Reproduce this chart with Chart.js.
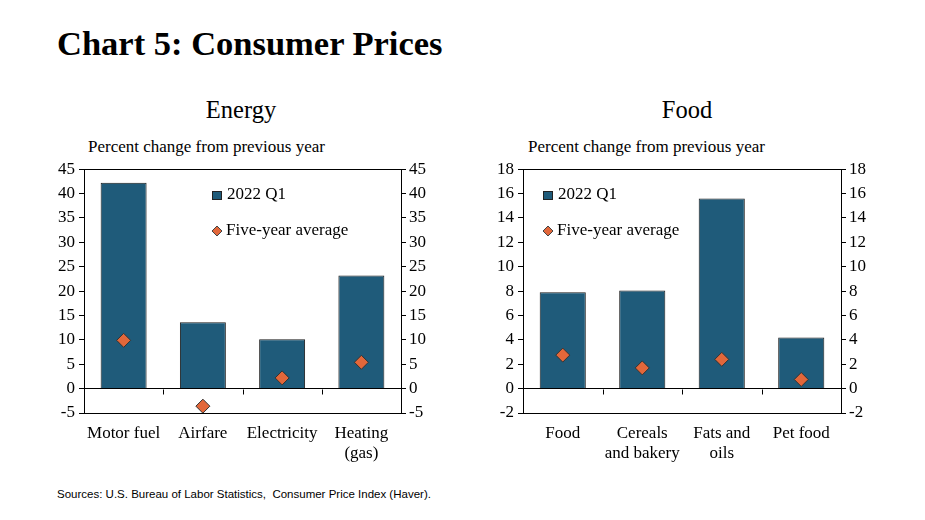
<!DOCTYPE html>
<html>
<head>
<meta charset="utf-8">
<script src="https://cdn.jsdelivr.net/npm/chart.js@4"></script>
<style>
  body { margin: 0; background: #fff; width: 925px; height: 520px; position: relative; overflow: hidden; font-family: "Liberation Serif", serif; color: #000; }
  .abs { position: absolute; white-space: nowrap; }
  #titulo { left: 57px; top: 24px; font-size: 34.5px; font-weight: bold; }
  .sub { font-size: 24.5px; top: 96px; transform: translateX(-50%); }
  .unidad { font-size: 17px; top: 137px; }
  #fuente { left: 57px; top: 488px; font-family: "Liberation Sans", sans-serif; font-size: 11.5px; }
  canvas { position: absolute; }
</style>
</head>
<body>
<div id="titulo" class="abs">Chart 5: Consumer Prices</div>
<div class="abs sub" style="left:241px">Energy</div>
<div class="abs sub" style="left:687px">Food</div>
<div class="abs unidad" style="left:88px">Percent change from previous year</div>
<div class="abs unidad" style="left:528px">Percent change from previous year</div>
<div style="position:absolute;left:30px;top:155px;width:420px;height:315px"><canvas id="grafico_energia"></canvas></div>
<div style="position:absolute;left:470px;top:155px;width:420px;height:315px"><canvas id="grafico_comida"></canvas></div>
<div id="fuente" class="abs">Sources: U.S. Bureau of Labor Statistics,&nbsp; Consumer Price Index (Haver).</div>

<script>
// datos
const catEnergia = ['Motor fuel', 'Airfare', 'Electricity', ['Heating', '(gas)']]
const q1Energia = [42.2, 13.6, 10.1, 23.2]
const promEnergia = [9.9, -3.6, 2.2, 5.4]

const catComida = ['Food', ['Cereals', 'and bakery'], ['Fats and', 'oils'], 'Pet food']
const q1Comida = [7.9, 8.05, 15.6, 4.2]
const promComida = [2.75, 1.7, 2.4, 0.75]

const serieLabels = ['2022 Q1', 'Five-year average']

const colorBarra = '#1f5b7a'
const colorRombo = '#e2673a'
const fuente = 'Liberation Serif'

// marcas del eje x hacia abajo desde la linea de cero + linea de arriba
const marcasCero = {
    id: 'marcasCero',
    afterDraw(chart) {
        const x = chart.scales.x, y = chart.scales.y
        const a = chart.chartArea
        const y0 = Math.round(y.getPixelForValue(0)) + 0.5
        const c = chart.ctx
        c.save()
        c.strokeStyle = '#000'
        c.lineWidth = 1
        for (let i = 1; i < x.ticks.length; i++) {
            const px = Math.round((x.getPixelForTick(i - 1) + x.getPixelForTick(i)) / 2) + 0.5
            c.beginPath()
            c.moveTo(px, y0)
            c.lineTo(px, y0 + 5)
            c.stroke()
        }
        // borde superior
        const yt = Math.round(a.top) + 0.5
        c.beginPath()
        c.moveTo(a.left - 5, yt)
        c.lineTo(a.right + 5, yt)
        c.stroke()
        c.restore()
    }
}

// leyenda dentro del area
const leyenda = {
    id: 'leyenda',
    afterDraw(chart, args, opts) {
        const c = chart.ctx
        const x0 = chart.chartArea.left + opts.dx
        c.save()
        c.font = '17px "' + fuente + '"'
        c.textBaseline = 'middle'
        c.fillStyle = colorBarra
        c.strokeStyle = '#222'
        c.lineWidth = 1
        c.fillRect(x0, 36, 10, 9)
        c.strokeRect(x0 + 0.5, 36.5, 9, 8)
        c.fillStyle = '#000'
        c.fillText(serieLabels[0], x0 + 15, 40)
        c.fillStyle = colorRombo
        c.strokeStyle = '#444'
        c.beginPath()
        const cx = x0 + 5, cy = 76
        c.moveTo(cx, cy - 5); c.lineTo(cx + 5, cy); c.lineTo(cx, cy + 5); c.lineTo(cx - 5, cy); c.closePath()
        c.fill(); c.stroke()
        c.fillStyle = '#000'
        c.fillText(serieLabels[1], x0 + 14, 76)
        c.restore()
    }
}

function graficoBarra(id, labels, barras, rombos, min, max, paso, dx, anchoIzq) {
    const ctx = document.getElementById(id).getContext('2d')

    const data = {
        labels: labels,
        datasets: [{
            type: 'bar',
            label: serieLabels[0],
            data: barras,
            backgroundColor: colorBarra,
            borderColor: '#1a1a1a',
            borderWidth: 1,
            barPercentage: 0.58,
            categoryPercentage: 1,
            order: 2
        }, {
            type: 'line',
            label: serieLabels[1],
            data: rombos,
            showLine: false,
            pointStyle: 'rectRot',
            pointRadius: 7,
            pointHoverRadius: 7,
            pointBackgroundColor: colorRombo,
            pointBorderColor: '#333',
            pointBorderWidth: 1,
            order: 1
        }]
    }

    const lineaY = (ctx) => (ctx.tick.value === 0 || ctx.tick.value === min) ? '#000' : 'rgba(0,0,0,0)'
    const tickFont = { family: fuente, size: 17, lineHeight: 1.2 }

    const options = {
        responsive: true,
        maintainAspectRatio: false,
        animation: false,
        layout: { padding: { top: 10, left: 0, right: 0, bottom: 0 } },
        scales: {
            x: {
                grid: { display: false, drawTicks: false },
                border: { display: false },
                ticks: { color: '#000', font: tickFont, padding: 10, maxRotation: 0, autoSkip: false },
                afterFit: (s) => { s.height = 57 }
            },
            y: {
                position: 'left',
                min: min, max: max,
                ticks: { stepSize: paso, color: '#000', font: tickFont, padding: 4 },
                grid: { color: lineaY, tickColor: '#000', tickLength: 5, lineWidth: 1 },
                border: { display: true, color: '#000' },
                afterFit: (s) => { s.width = anchoIzq }
            },
            y2: {
                position: 'right',
                min: min, max: max,
                ticks: { stepSize: paso, color: '#000', font: tickFont, padding: 3 },
                grid: { drawOnChartArea: false, tickColor: '#000', tickLength: 5 },
                border: { display: true, color: '#000' },
                afterFit: (s) => { s.width = 49 }
            }
        },
        plugins: {
            legend: { display: false },
            tooltip: { enabled: false },
            leyenda: { dx: dx }
        }
    }

    return new Chart(ctx, { data, options, plugins: [marcasCero, leyenda] })
}

graficoBarra('grafico_energia', catEnergia, q1Energia, promEnergia, -5, 45, 5, 128, 54)
graficoBarra('grafico_comida', catComida, q1Comida, promComida, -2, 18, 2, 20, 53)
</script>
</body>
</html>
